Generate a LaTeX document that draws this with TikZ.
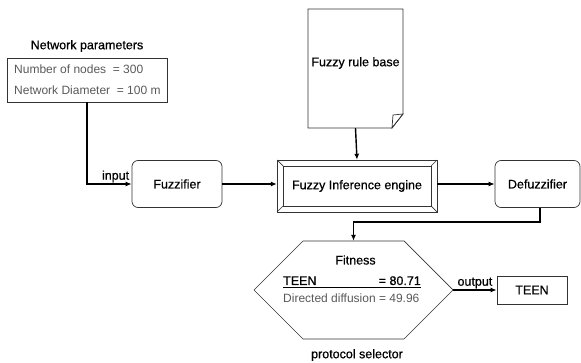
\documentclass[tikz,border=0pt]{standalone}
\usepackage{fontspec}
\setmainfont{Liberation Sans}
\newfontfamily\heavyfont[FakeBold=0.7]{Liberation Sans}
\usetikzlibrary{arrows.meta,calc}
\tikzset{
  txt/.style={font=\heavyfont\fontsize{12.5}{14}\selectfont, inner sep=0pt},
  graytxt/.style={font=\fontsize{12}{14}\selectfont, inner sep=0pt, text=black!65},
  rbox/.style={draw=black!80, line width=0.7pt, rounded corners=6pt, fill=white, txt},
  pbox/.style={draw=black!80, line width=0.7pt, txt},
  conn/.style={line width=1.4pt, -{Latex[length=6pt,width=5pt]}},
  outline/.style={draw=black!80, line width=0.7pt}
}
\begin{document}
\begin{tikzpicture}[x=1pt,y=-1pt]
\useasboundingbox (0,0) rectangle (581,363);

% network parameters
\node[txt] (ptitle) at (87,46) {Network parameters};
\node[pbox, minimum width=160pt, minimum height=44pt] (params) at (87,80) {};
\node[graytxt, anchor=west] (pline1) at (14,69) {Number of nodes \ = 300};
\node[graytxt, anchor=west] (pline2) at (14,90) {Network Diameter \ = 100 m};

% processing chain
\node[rbox, minimum width=90pt, minimum height=47pt] (fuzz) at (177,184) {Fuzzifier};
\node[rbox, minimum width=85pt, minimum height=47pt] (defuzz) at (537.5,184) {Defuzzifier};

% inference engine with bevelled frame
\node[minimum width=160pt, minimum height=52pt, inner sep=0pt] (infer) at (357,186) {};
\draw[outline] (277,160) rectangle (437,212);
\draw[outline] (283,166) rectangle (431,206);
\draw[outline] (277,160) -- (283,166) (437,160) -- (431,166)
               (277,212) -- (283,206) (437,212) -- (431,206);
\node[txt] (infertxt) at (357,186) {Fuzzy Inference engine};

% rule base document
\node[minimum width=95pt, minimum height=119pt, inner sep=0pt] (rules) at (355.5,68.5) {};
\draw[outline, fill=white] (308,9) -- (403,9) -- (403,114) -- (392,128) -- (308,128) -- cycle;
\draw[outline] (393,115) -- (403,114) -- (392,128) -- cycle;
\node[txt] (rulestxt) at (355.5,63) {Fuzzy rule base};

% protocol selector
\node[minimum width=199pt, minimum height=98pt, inner sep=0pt] (hex) at (353.5,290) {};
\draw[outline] (254,290) -- (303,241) -- (404,241) -- (453,290) -- (404,339) -- (303,339) -- cycle;
\node[txt] (fit) at (355.5,260) {Fitness};
\node[txt, anchor=base west] (teenl) at (283,285) {TEEN};
\node[txt, anchor=base east] (teenr) at (421,285) {= 80.71};
\draw[line width=0.8pt] (283,287.5) -- (421,287.5);
\node[graytxt, anchor=west] (dd) at (283,298) {Directed diffusion = 49.96};
\node[txt] (psel) at (357,355) {protocol selector};

\node[pbox, minimum width=70pt, minimum height=28pt] (teen) at (532,290) {TEEN};

% connectors
\draw[conn] (params.south) |- (fuzz.west) node[pos=0.82, above=1pt, txt] (inlbl) {input};
\draw[conn] (fuzz.east) -- (infer.west |- fuzz.east);
\draw[conn] (rules.south) -- (infer.north);
\draw[conn] (infer.east |- defuzz.west) -- (defuzz.west);
\coordinate (turn) at (540,222);
\draw[conn] (defuzz.south -| turn) -- (turn) -| (hex.north);
\draw[conn] (hex.east) -- (teen.west) node[midway, above=1pt, txt] (outlbl) {output};
\end{tikzpicture}
\end{document}
